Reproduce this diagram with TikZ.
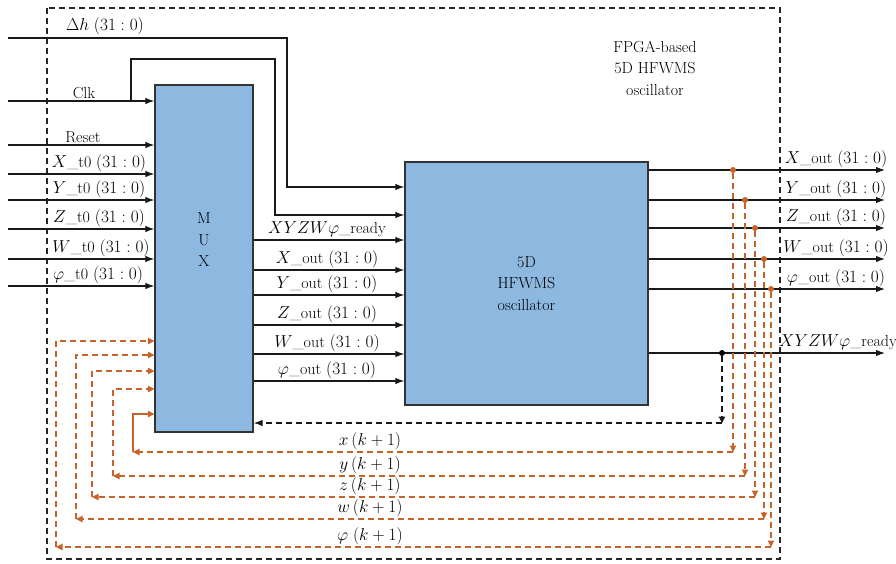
\documentclass[tikz,border=0pt]{standalone}
\usepackage{tikz}
\usetikzlibrary{arrows.meta, positioning, calc}
\definecolor{blkfill}{RGB}{141,185,224}
\definecolor{fborange}{RGB}{199,99,42}

\begin{document}
\begin{tikzpicture}[x=1pt,y=-1pt,
  font=\fontsize{16}{21.5}\selectfont,
  blk/.style={draw=black!80, line width=1.3pt, fill=blkfill, align=center},
  sig/.style={draw=black!90, line width=1.1pt, -{Latex[length=9pt,width=6.5pt]}},
  fb/.style={draw=fborange, line width=1.1pt, dash pattern=on 6pt off 4pt},
  fbsolid/.style={draw=fborange, line width=1.1pt},
  fbtip/.style={-{Triangle[length=6.5pt,width=6.5pt]}},
  lbl/.style={above, inner sep=2.5pt, text=black},
  fbdot/.style={circle, fill=fborange, inner sep=0pt, minimum size=6pt},
  bkdot/.style={circle, fill=black, inner sep=0pt, minimum size=6pt},
]
\useasboundingbox (0,0) rectangle (896,563);
% outer frame of the FPGA
\draw[black!85, line width=1.1pt, dash pattern=on 6pt off 4pt] (47,8) rectangle (780,559);
\node[align=center] (title) at (655,68) {FPGA-based\\5D HFWMS\\oscillator};

% blocks
\node[blk, minimum width=98pt, minimum height=347pt] (mux) at (204,258.5) {};
\node[align=center] (muxlbl) at (204,240) {M\\U\\X};
\node[blk, minimum width=243pt, minimum height=243pt] (osc) at (526.5,283.5) {5D\\HFWMS\\oscillator};

% step size and clock
\coordinate (dh) at (8,38);
\draw[sig] (dh) -| (287,187) -- (osc.west |- 0,187);
\node[lbl] (dhlbl) at (105,38) {$\Delta h$ $(31:0)$};
\coordinate (clk) at (8,101);
\coordinate (clkbr) at (131,101);
\draw[sig] (clk) -- (clk -| mux.west);
\draw[sig] (clkbr) |- (275,59) -- (275,215) -- (osc.west |- 0,215);
\node[lbl] (clklbl) at (84,101) {Clk};

% initial conditions into the MUX
\foreach \y/\nm/\xl/\txt in {145/rst/83/Reset, 174/xt/99/{$X$\_t0 $(31:0)$}, 200/yt/99/{$Y$\_t0 $(31:0)$},
    229/zt/99/{$Z$\_t0 $(31:0)$}, 259/wt/101/{$W$\_t0 $(31:0)$}, 286/pt/98/{$\varphi$\_t0 $(31:0)$}}{
  \coordinate (\nm) at (8,\y);
  \draw[sig] (\nm) -- (\nm -| mux.west);
  \node[lbl] (\nm lbl) at (\xl,\y) {\txt};
}

% MUX -> oscillator
\foreach \y/\nm/\txt in {240/mrdy/{$XYZW\varphi$\_ready}, 270/mx/{$X$\_out $(31:0)$}, 295/my/{$Y$\_out $(31:0)$},
    325/mz/{$Z$\_out $(31:0)$}, 354/mw/{$W$\_out $(31:0)$}, 381/mp/{$\varphi$\_out $(31:0)$}}{
  \coordinate (\nm) at (mux.east |- 0,\y);
  \draw[sig] (\nm) -- (\nm -| osc.west);
  \node[lbl] (\nm lbl) at (327,\y) {\txt};
}

% oscillator outputs
\foreach \y/\nm/\txt in {170/ox/{$X$\_out $(31:0)$}, 200/oy/{$Y$\_out $(31:0)$}, 228/oz/{$Z$\_out $(31:0)$},
    259/ow/{$W$\_out $(31:0)$}, 289/op/{$\varphi$\_out $(31:0)$}}{
  \coordinate (\nm) at (osc.east |- 0,\y);
  \draw[sig] (\nm) -- (885,\y);
  \node[lbl] (\nm lbl) at (836,\y) {\txt};
}
\coordinate (ordy) at (osc.east |- 0,353);
\draw[sig] (ordy) -- (885,353);
\node[lbl] (ordylbl) at (838,353) {$XYZW\varphi$\_ready};

% ready fed back to the MUX
\node[bkdot] (rdot) at (722,353) {};
\coordinate (rcor) at (722,423);
\draw[black!90, line width=1.1pt, dash pattern=on 6pt off 4pt, -{Triangle[length=6.5pt,width=6.5pt]}] (rdot) -- (rcor);
\draw[black!90, line width=1.1pt, dash pattern=on 6pt off 4pt, -{Latex[length=9pt,width=6.5pt]}] (rcor) -- (rcor -| mux.east);

% state feedback x(k+1) ... phi(k+1)
\foreach \xd/\yo/\yb/\xl/\ym/\st/\nm/\txt in {733/170/452/133/414/fbsolid/fx/{$x\,(k+1)$}, 745/200/476/113/389/fb/fy/{$y\,(k+1)$},
    755/228/497/92/371/fb/fz/{$z\,(k+1)$}, 764/259/519/76/355/fb/fw/{$w\,(k+1)$}, 771/289/547/56/341/fb/fp/{$\varphi\;(k+1)$}}{
  \node[fbdot] (\nm dot) at (\xd,\yo) {};
  \coordinate (\nm r) at (\xd,\yb);
  \coordinate (\nm l) at (\xl,\yb);
  \draw[fb, fbtip] (\nm dot) -- (\nm r);
  \draw[fb, fbtip] (\nm r) -- (\nm l);
  \draw[\st, fbtip] (\nm l) -- (\xl,\ym) -- (mux.west |- 0,\ym);
  \node[lbl] (\nm lbl) at (370,\yb) {\txt};
}
\end{tikzpicture}
\end{document}
